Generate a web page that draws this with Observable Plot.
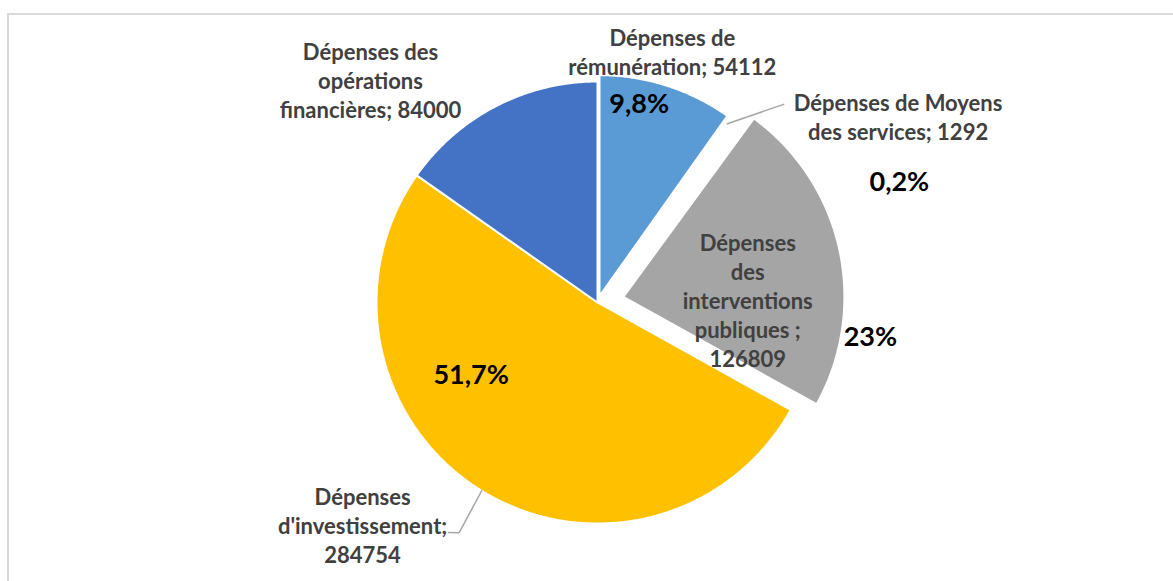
<!DOCTYPE html>
<html>
<head>
<meta charset="utf-8">
<script src="https://cdn.jsdelivr.net/npm/d3@7"></script>
<script src="https://cdn.jsdelivr.net/npm/@observablehq/plot@0.6"></script>
<style>
  html, body { margin: 0; padding: 0; background: #fff; overflow: hidden; }
  #wrap { position: relative; width: 1173px; height: 581px; overflow: hidden; }
  #border { position: absolute; left: 7px; top: 13px; width: 1200px; height: 620px; border: 2px solid #d9d9d9; box-sizing: border-box; }
  #chart { position: absolute; left: 0; top: 0; }
</style>
</head>
<body>
<div id="wrap"><div id="border"></div><div id="chart"></div></div>
<script>
// ---- data ----
const categories = [
  "Dépenses de rémunération",
  "Dépenses de Moyens des services",
  "Dépenses des interventions publiques ",
  "Dépenses d'investissement",
  "Dépenses des opérations financières"
];
const values = [54112, 1292, 126809, 284754, 84000];
const percentLabels = ["9,8%", "0,2%", "23%", "51,7%", ""];
const categoryLabels = [
  "Dépenses de\nrémunération; 54112",
  "Dépenses de Moyens\ndes services; 1292",
  "Dépenses\ndes\ninterventions\npubliques ;\n126809",
  "Dépenses\nd'investissement;\n284754",
  "Dépenses des\nopérations\nfinancières; 84000"
];
const colors = ["#5B9BD5", "#FFFFFF", "#A5A5A5", "#FFC000", "#4472C4"];

// ---- layout (not data) ----
const W = 1173, H = 581, CX = 597, CY = 302, R = 221;
const explode = [0.03, 0, 0.12, 0, 0];               // fraction of radius
const pctPos = [[11.9, 0.916], [68.3, 1.47], [97.3, 1.245], [240, 0.66], [0, 0]]; // [deg, radius]
const catPos = [[16.6, 1.185], [58.2, 1.6], [88.9, 0.68], [226.6, 1.463], [314.5, 1.44]];
const leaders = { 1: [[36.0, 1.0], [43.2, 1.23]], 3: [[211.6, 1.0], [211.0, 1.215], [212.9, 1.24]] };

const rad = d => d * Math.PI / 180;
const pol = (deg, r) => [r * Math.sin(rad(deg)), r * Math.cos(rad(deg))];

const total = d3.sum(values);
let acc = 0;
const slices = values.map((v, i) => {
  const a0 = acc / total * 360; acc += v; const a1 = acc / total * 360;
  return { i, a0, a1, mid: (a0 + a1) / 2 };
});

const polyPts = [];
slices.forEach(s => {
  const [ox, oy] = pol(s.mid, explode[s.i]);
  polyPts.push({ k: s.i, x: ox, y: oy, color: colors[s.i] });
  const n = Math.max(2, Math.ceil((s.a1 - s.a0) * 3));
  for (let j = 0; j <= n; j++) {
    const a = s.a0 + (s.a1 - s.a0) * j / n;
    const [px, py] = pol(a, 1);
    polyPts.push({ k: s.i, x: ox + px, y: oy + py, color: colors[s.i] });
  }
  polyPts.push({ k: s.i, x: ox, y: oy, color: colors[s.i] });
});

const pctData = slices.filter(s => percentLabels[s.i]).map(s => {
  const [x, y] = pol(pctPos[s.i][0], pctPos[s.i][1]);
  return { x, y, t: percentLabels[s.i] };
});
const catData = slices.map(s => {
  const [x, y] = pol(catPos[s.i][0], catPos[s.i][1]);
  return { x, y, t: categoryLabels[s.i] };
});
const leaderPts = [];
Object.entries(leaders).forEach(([k, pts]) => pts.forEach(([a, r]) => {
  const [x, y] = pol(a, r); leaderPts.push({ k: +k, x, y });
}));

const font = "Lato, 'Open Sans', sans-serif";
const plot = Plot.plot({
  width: W, height: H,
  margin: 0,
  style: { background: "transparent", fontFamily: font, overflow: "visible" },
  x: { domain: [-CX / R, (W - CX) / R], range: [0, W], axis: null },
  y: { domain: [-(H - CY) / R, CY / R], range: [H, 0], axis: null },
  color: { type: "identity" },
  marks: [
    Plot.line(polyPts, { x: "x", y: "y", z: "k", fill: "color", stroke: "white", strokeWidth: 2, strokeLinejoin: "miter", curve: "linear" }),
    Plot.line(leaderPts, { x: "x", y: "y", z: "k", stroke: "#a6a6a6", strokeWidth: 1.5 }),
    Plot.text(catData, { x: "x", y: "y", text: "t", fontSize: 22, fontWeight: "bold", fill: "#404040", lineHeight: 1.32, textAnchor: "middle", fontFamily: font }),
    Plot.text(pctData, { x: "x", y: "y", text: "t", fontSize: 27, fontWeight: "bold", fill: "#000", textAnchor: "middle", fontFamily: font })
  ]
});
document.getElementById("chart").appendChild(plot);
</script>
</body>
</html>
